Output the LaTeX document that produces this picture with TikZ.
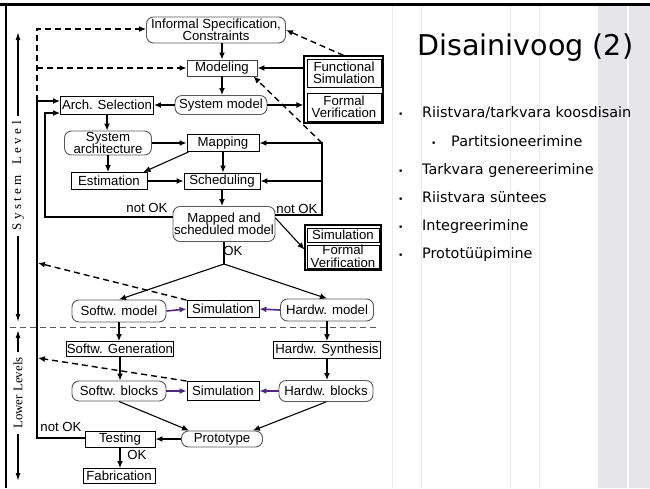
\documentclass[tikz,border=0pt]{standalone}
\usepackage{fontspec}
\setmainfont{Liberation Sans}
\newfontfamily\slidefont{DejaVu Sans}
\newfontfamily\axisfont{Liberation Serif}
\usetikzlibrary{arrows.meta}

\definecolor{sidegray}{RGB}{230,230,234}
\definecolor{faintline}{RGB}{234,234,234}
\definecolor{simpurple}{RGB}{78,40,128}

\begin{document}
\begin{tikzpicture}[x=1pt,y=-1pt,
  font=\fontsize{13.2}{12.5}\selectfont,
  rect/.style={draw=black, line width=0.9pt, inner sep=0pt, align=center},
  pill/.style={draw=black!65, line width=0.9pt, rounded corners=7pt, inner sep=0pt, align=center},
  frame/.style={draw=black, line width=1.2pt, inner sep=0pt},
  tip/.style={-{Latex[length=7pt,width=6pt]}},
  flow/.style={tip, line width=1.6pt},
  heavy/.style={tip, line width=2.2pt},
  thinflow/.style={tip, line width=1.1pt},
  feedback/.style={tip, line width=1.4pt, dash pattern=on 6pt off 4pt},
  simflow/.style={-{Latex[length=7pt,width=6pt]}, draw=simpurple, line width=1.6pt},
  lbl/.style={inner sep=0pt},
  axislbl/.style={rotate=90, inner sep=5pt, font=\axisfont\fontsize{13}{13}\selectfont},
  axisarrow/.style={-{Latex[length=8pt,width=5pt]}, line width=1.3pt},
  bullet/.style={anchor=base west, inner sep=0pt, font=\slidefont\fontsize{9}{10}\selectfont},
  item/.style={anchor=base west, inner sep=0pt, font=\slidefont\fontsize{14.4}{16}\selectfont}]

\useasboundingbox (0,0) rectangle (650,488);
\fill[white] (0,0) rectangle (650,488);

% slide background: guide lines and side band
\fill[sidegray] (598,5) rectangle (650,488);
\draw[white, line width=1.5pt] (628,5) -- (628,488);
\foreach \gx in {392,421,510,539}
  \draw[faintline, line width=0.9pt] (\gx,5) -- (\gx,488);
\draw[line width=2.6pt] (0,4.3) -- (650,4.3);
\draw[line width=2pt] (5.5,4) -- (5.5,488);

% title and bullet list
\node[anchor=base west, inner sep=0pt, font=\slidefont\fontsize{28.6}{30}\selectfont] (title) at (417,55) {Disainivoog (2)};
\node[bullet] (b1) at (398,117) {•};
\node[item] (t1) at (422,117) {Riistvara/tarkvara koosdisain};
\node[bullet] (b2) at (431,146) {•};
\node[item] (t2) at (451,146) {Partitsioneerimine};
\node[bullet] (b3) at (398,174) {•};
\node[item] (t3) at (422,174) {Tarkvara genereerimine};
\node[bullet] (b4) at (398,202) {•};
\node[item] (t4) at (422,202) {Riistvara süntees};
\node[bullet] (b5) at (398,230) {•};
\node[item] (t5) at (422,230) {Integreerimine};
\node[bullet] (b6) at (398,258) {•};
\node[item] (t6) at (422,258) {Prototüüpimine};

% level axis on the left
\node[axislbl] (syslvl) at (18,176) {S\hspace{3.5pt}y\hspace{3.5pt}s\hspace{3.5pt}t\hspace{3.5pt}e\hspace{3.5pt}m\hspace{10pt}L\hspace{3.5pt}e\hspace{3.5pt}v\hspace{3.5pt}e\hspace{3.5pt}l};
\node[axislbl] (lowlvl) at (18,393) {Lower Levels};
\coordinate (ax1) at (18,32);
\coordinate (ax2) at (18,322);
\coordinate (ax3) at (18,330);
\coordinate (ax4) at (18,481);
\draw[axisarrow] (syslvl.east) -- (ax1);
\draw[axisarrow] (syslvl.west) -- (ax2);
\draw[axisarrow] (lowlvl.east) -- (ax3);
\draw[axisarrow] (lowlvl.west) -- (ax4);
\coordinate (sepL) at (10,327);
\coordinate (sepR) at (378,327);
\draw[black!65, line width=0.8pt, dash pattern=on 6pt off 4pt] (sepL) -- (sepR);

% system level nodes
\node[pill, minimum width=139pt, minimum height=26pt] (spec) at (216,30) {Informal Specification,\\Constraints};
\node[rect, draw=black!75, minimum width=70pt, minimum height=16pt] (model) at (222,68) {Modeling};
\node[pill, minimum width=92pt, minimum height=19pt] (sysm) at (221,105) {System model};
\node[rect, minimum width=93pt, minimum height=18pt] (arch) at (107,105) {Arch. Selection};
\node[frame, minimum width=79pt, minimum height=67pt] (fbox) at (343.5,89.5) {};
\node[rect, minimum width=74pt, minimum height=28pt] (fsim) at (344,73) {Functional\\Simulation};
\node[rect, minimum width=74pt, minimum height=28pt] (fver) at (344,107) {Formal\\Verification};
\node[pill, minimum width=87pt, minimum height=24pt] (sysa) at (108,143) {System\\architecture};
\node[rect, minimum width=72pt, minimum height=17pt] (mapg) at (223,143) {Mapping};
\node[rect, minimum width=76pt, minimum height=17pt] (est) at (109,181) {Estimation};
\node[rect, minimum width=76pt, minimum height=16pt] (sched) at (222,181) {Scheduling};
\node[pill, minimum width=102pt, minimum height=35pt] (msm) at (224,224) {Mapped and\\scheduled model};
\node[frame, minimum width=76pt, minimum height=45pt] (vbox) at (343,247.5) {};
\node[rect, minimum width=72pt, minimum height=14pt] (vsim) at (343,235) {Simulation};
\node[rect, minimum width=72pt, minimum height=23pt] (vver) at (343,256.5) {Formal\\Verification};

% lower level nodes
\node[pill, minimum width=94pt, minimum height=22pt] (swm) at (119,311) {Softw. model};
\node[rect, minimum width=72pt, minimum height=17pt] (sim1) at (223,309) {Simulation};
\node[pill, minimum width=93pt, minimum height=22pt] (hwm) at (327,310) {Hardw. model};
\node[rect, minimum width=105pt, minimum height=15pt] (swg) at (120,349) {Softw. Generation};
\node[rect, minimum width=107pt, minimum height=17pt] (hws) at (327,350) {Hardw. Synthesis};
\node[pill, minimum width=94pt, minimum height=20pt] (swb) at (119,391) {Softw. blocks};
\node[rect, minimum width=72pt, minimum height=19pt] (sim2) at (223,391) {Simulation};
\node[pill, minimum width=94pt, minimum height=21pt] (hwb) at (326,391) {Hardw. blocks};
\node[pill, minimum width=81pt, minimum height=16pt] (proto) at (222,439) {Prototype};
\node[rect, minimum width=70pt, minimum height=16pt] (test) at (120,439) {Testing};
\node[rect, minimum width=72pt, minimum height=15pt] (fab) at (119,476) {Fabrication};

% labels
\node[lbl] (nok1) at (147,208) {not OK};
\node[lbl] (nok2) at (297,209) {not OK};
\node[lbl] (ok1) at (233,251) {OK};
\node[lbl] (nok3) at (61,427) {not OK};
\node[lbl] (ok2) at (137,455) {OK};

% routing points
\coordinate (mt) at (37,101);
\coordinate (mb) at (37,438);
\coordinate (dt) at (37,29);
\coordinate (lt) at (45,113);
\coordinate (lb) at (45,217);
\coordinate (rl) at (322,215);
\coordinate (rt) at (322,143);
\coordinate (ok) at (224,264);
\coordinate (d1) at (38,263);
\coordinate (d2) at (38,358);

% system level flow
\draw[flow] (model.north |- spec.south) -- (model.north);
\draw[flow] (model.south) -- (model.south |- sysm.north);
\draw[heavy] (fbox.west |- model) -- (model.east);
\draw[heavy] (sysm.east) -- (fbox.west |- sysm.east);
\draw[feedback] (fbox.north) -- (spec.east);
\draw[heavy] (sysm.west) -- (arch.east);
\draw[flow] (arch.south) -- (arch.south |- sysa.north);
\draw[heavy] (sysa.east) -- (mapg.west);
\draw[flow] (sysa.south) -- (sysa.south |- est.north);
\draw[thinflow] ([xshift=2pt]mapg.south west) -- ([xshift=-4pt]est.north east);
\draw[flow] (mapg.south) -- (mapg.south |- sched.north);
\draw[flow] (est.east) -- (sched.west);
\draw[flow] (sched.south) -- (sched.south |- msm.north);
\draw[heavy] (msm.east |- rl) -- (rl) -- (rt) -- (mapg.east);
\draw[heavy] (rl |- sched) -- (sched.east);
\draw[feedback] (rt) -- ([xshift=-4pt]model.south east);
\draw[flow] (msm.west |- lb) -- (lb) -- (lt) -- (arch.west |- lt);
\draw[heavy] (test.west |- mb) -- (mb) -- (mt) -- (arch.west |- mt);
\draw[feedback] (mt) -- (dt) -- (spec.west |- dt);
\draw[feedback] (mt |- model) -- (model.west);
\draw[thinflow] ([yshift=6pt]msm.east) -- ([yshift=-2pt]vbox.west);

% implementation flow
\draw[line width=1.1pt] (msm.south) -- (ok);
\draw[thinflow] (ok) -- (swm.north);
\draw[thinflow] (ok) -- (hwm.north);
\draw[simflow] (swm.east) -- (sim1.west);
\draw[simflow] (hwm.west) -- (sim1.east);
\draw[feedback] (sim1.north west) -- (d1);
\draw[flow] (swm.south) -- (swm.south |- swg.north);
\draw[flow] (swg.south) -- (swg.south |- swb.north);
\draw[flow] (hwm.south) -- (hwm.south |- hws.north);
\draw[flow] (hws.south) -- (hws.south |- hwb.north);
\draw[simflow] (swb.east) -- (sim2.west);
\draw[simflow] (hwb.west) -- (sim2.east);
\draw[feedback] (sim2.north west) -- (d2);
\draw[thinflow] (swb.south) -- ([xshift=8pt]proto.north west);
\draw[thinflow] (hwb.south) -- ([xshift=-10pt]proto.north east);
\draw[heavy] (proto.west) -- (test.east);
\draw[flow] (test.south) -- (test.south |- fab.north);
\end{tikzpicture}
\end{document}
